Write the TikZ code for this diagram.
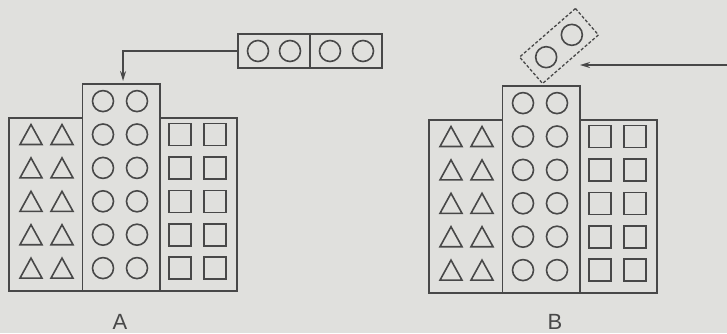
\documentclass[tikz,border=0pt]{standalone}
\usepackage{fontspec}
\setmainfont{Liberation Sans}
\usetikzlibrary{arrows.meta}
\definecolor{paper}{RGB}{224,224,221}
\definecolor{ink}{RGB}{72,72,72}
\tikzset{
  ln/.style={draw=ink, line width=1.6pt},
  block/.style={ln, rectangle, inner sep=0pt, anchor=north west},
  ring/.style={ln, circle, inner sep=0pt, minimum size=21pt},
  cube/.style={ln, rectangle, inner sep=0pt, minimum size=22pt},
  tag/.style={text=ink, font=\fontsize{22}{22}\selectfont},
  tip/.style={-{Stealth[length=10pt,width=6pt]}},
  tri/.pic={\draw[ln, line join=miter] (-11,10) -- (11,10) -- (0,-10) -- cycle;},
  building/.pic={
    % three columns: triangles, circles (taller), squares
    \node[block, minimum width=73.5pt, minimum height=173pt] (-left) at (0,0) {};
    \node[block, minimum width=77.5pt, minimum height=207pt] (-mid) at (73.5,-34) {};
    \node[block, minimum width=77pt, minimum height=173pt] (-right) at (151,0) {};
    \foreach \i in {0,...,4}{
      \pgfmathsetmacro{\yy}{17.5+33.4*\i}
      \pic at (23,\yy) {tri};
      \pic at (54,\yy) {tri};
      \node[ring] (-c\i a) at (95,\yy) {};
      \node[ring] (-c\i b) at (129,\yy) {};
      \node[cube] (-s\i a) at (172,\yy) {};
      \node[cube] (-s\i b) at (207,\yy) {};
    }
    \node[ring] (-top a) at (95,-15.9) {};
    \node[ring] (-top b) at (129,-15.9) {};
  }
}
\begin{document}
\begin{tikzpicture}[x=1pt,y=-1pt]
  \fill[paper] (0,0) rectangle (727,333);
  \useasboundingbox (0,0) rectangle (727,333);

  % left scene
  \pic (A) at (8,117) {building};
  \node[tag] (labA) at (120,322) {A};
  \node[ln, rectangle, inner sep=0pt, minimum width=144pt, minimum height=34pt] (bar) at (310,51) {};
  \draw[ln] (bar.north) -- (bar.south);
  \foreach \x/\n in {258/1,290/2,330/3,363/4}
    \node[ring] (bar\n) at (\x,51) {};
  \draw[ln, tip, shorten >=2pt] (bar.west) -| ([xshift=2pt]A-mid.north);

  % right scene
  \pic (B) at (428,119) {building};
  \node[tag] (labB) at (555,322) {B};
  \begin{scope}[shift={(559,46)}, rotate=41]
    \node[ln, line width=1.3pt, dash pattern=on 3pt off 2pt, rectangle, inner sep=0pt,
          transform shape, minimum width=74pt, minimum height=35pt] (pair) at (0,0) {};
    \node[ring] (pair1) at (-17,0) {};
    \node[ring] (pair2) at (17,0) {};
  \end{scope}
  \coordinate (srcB) at (727,65);
  \coordinate (dstB) at (580,65);
  \draw[ln, tip] (srcB) -- (dstB);
\end{tikzpicture}
\end{document}
